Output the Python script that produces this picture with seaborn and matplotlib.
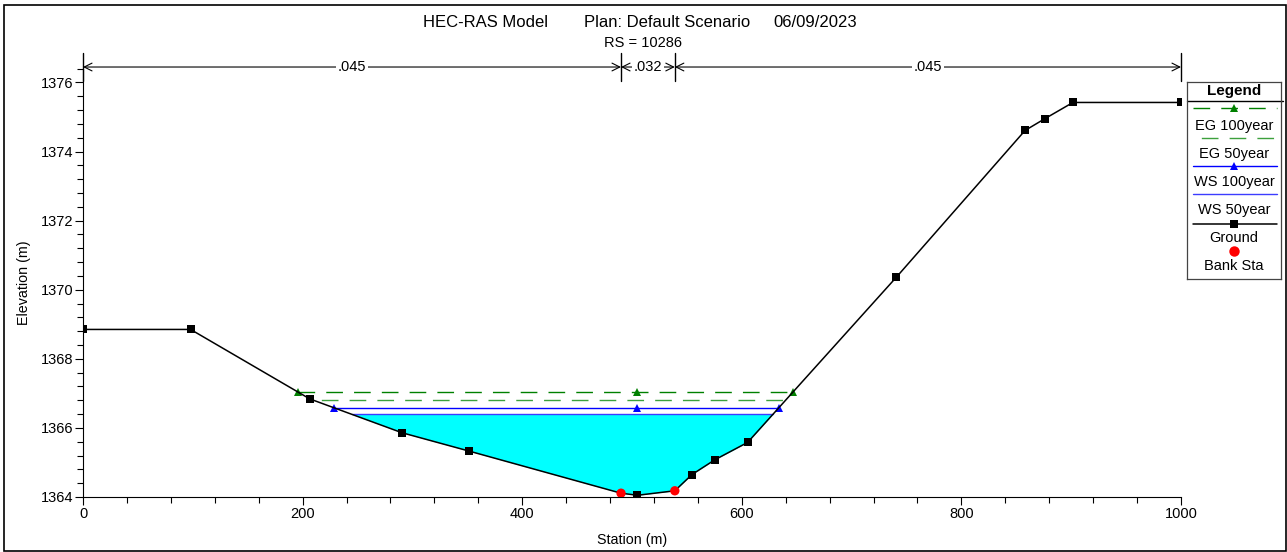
import numpy as np
import matplotlib
matplotlib.use("Agg")
import matplotlib.pyplot as plt
from matplotlib.ticker import MultipleLocator
from matplotlib.patches import Rectangle
import seaborn as sns

# ground geometry (station m, elevation m)
station = [0, 98, 206.5, 290.5, 351.5, 490, 505, 539, 554.6, 575.6, 605.3, 740.7, 858, 876, 901.6, 1000]
elevation = [1368.85, 1368.85, 1366.84, 1365.86, 1365.33, 1364.11, 1364.05, 1364.18, 1364.65,
             1365.08, 1365.58, 1370.36, 1374.61, 1374.95, 1375.42, 1375.42]
bank_station = [490, 539]
bank_elev = [1364.11, 1364.18]

# profiles
profile_names = ["EG 100year", "EG 50year", "WS 100year", "WS 50year"]
profile_elev = [1367.04, 1366.81, 1366.58, 1366.39]
profile_colors = ["#008000", "#3ca03c", "#0000ff", "#3c3cff"]
profile_styles = [(0, (12, 8)), (14, (12, 8)), "-", "-"]
profile_markers = ["^", None, "^", None]

# roughness
n_values = [".045", ".032", ".045"]
n_breaks = [0, 490, 539, 1000]

sns.set_style("ticks")
plt.rcParams["font.family"] = ["Liberation Sans", "DejaVu Sans"]
for k in ["text.color", "axes.labelcolor", "xtick.color", "ytick.color", "axes.edgecolor"]:
    plt.rcParams[k] = "black"

fig = plt.figure(figsize=(12.87, 5.52), dpi=100)
W, H = 1287, 552
ax = fig.add_axes([83 / W, 1 - 497 / H, (1181 - 83) / W, (497 - 68.6) / H])

x = np.array(station)
y = np.array(elevation)


def edges(z):
    wet = y < z
    i = np.argmax(wet)
    xl = np.interp(z, [y[i], y[i - 1]], [x[i], x[i - 1]])
    j = len(y) - 1 - np.argmax(wet[::-1])
    xr = np.interp(z, [y[j], y[j + 1]], [x[j], x[j + 1]])
    return xl, xr


x_mid = x[np.argmin(y)]

# water fill (lowest profile)
ax.fill_between(x, y, profile_elev[3], where=y < profile_elev[3], interpolate=True,
                color="#00ffff", lw=0, zorder=1)

for name, z, c, ls, mk in zip(profile_names, profile_elev, profile_colors, profile_styles, profile_markers):
    xl, xr = edges(z)
    if mk:
        xs = [xl, x_mid, xr]
    else:
        xs = [xl, xr]
    sns.lineplot(x=xs, y=[z] * len(xs), ax=ax, color=c, linestyle=ls, lw=1.0,
                 marker=mk, markersize=6, markeredgewidth=0, sort=False, zorder=3)

# ground, square markers except where a bank station sits
ground_marks = [i for i, s in enumerate(station) if s not in bank_station]
sns.lineplot(x=station, y=elevation, ax=ax, color="black", lw=1.1, marker="s",
             markersize=5.8, markeredgewidth=0, markevery=ground_marks, sort=False, zorder=4)
sns.scatterplot(x=bank_station, y=bank_elev, ax=ax, color="red", marker="o", s=45,
                edgecolor="none", zorder=5)

ax.set_xlim(0, 1000)
ax.set_ylim(1364, 1376.4)
ax.xaxis.set_major_locator(MultipleLocator(200))
ax.xaxis.set_minor_locator(MultipleLocator(40))
ax.yaxis.set_major_locator(MultipleLocator(2))
ax.yaxis.set_minor_locator(MultipleLocator(0.4))
ax.tick_params(which="major", length=6, width=0.8, labelsize=10.5, direction="out", pad=1)
ax.tick_params(which="minor", length=4, width=0.8, direction="out")
ax.set_yticks(range(1364, 1377, 2))
sns.despine(ax=ax)
for s in ["left", "bottom"]:
    ax.spines[s].set_linewidth(0.8)
ax.set_xlabel("Station (m)", fontsize=10.3, labelpad=9)
ax.set_ylabel("Elevation (m)", fontsize=10.3, labelpad=7)

# roughness bar above plot
tr = ax.get_xaxis_transform()
y_bar = 1.0037
for b in n_breaks:
    ax.plot([b, b], [(497 - 81) / 428.4, (497 - 53) / 428.4], transform=tr, color="black",
            lw=1, clip_on=False)
for k, lab in enumerate(n_values):
    a, b = n_breaks[k], n_breaks[k + 1]
    ax.annotate("", xy=(a, y_bar), xytext=(b, y_bar), xycoords=tr, textcoords=tr,
                arrowprops=dict(arrowstyle="<->", lw=0.8, color="black",
                                shrinkA=0, shrinkB=0, mutation_scale=14))
    ax.text((a + b) / 2, y_bar, lab, transform=tr, ha="center", va="center", fontsize=10.5,
            bbox=dict(facecolor="white", edgecolor="none", pad=1.0), clip_on=False)

ty = 1 - 22.5 / H
fig.text(423 / W, ty, "HEC-RAS Model", ha="left", va="center", fontsize=12)
fig.text(584 / W, ty, "Plan: Default Scenario", ha="left", va="center", fontsize=12)
fig.text(773 / W, ty, "06/09/2023", ha="left", va="center", fontsize=12)
fig.text(643 / W, 1 - 43 / H, "RS = 10286", ha="center", va="center", fontsize=10.5)

# figure border
fig.patches.append(Rectangle((4 / W, 1 - 551 / H), 1281.5 / W, 546 / H, transform=fig.transFigure,
                             fill=False, edgecolor="black", lw=1.2))

# legend box
lg = fig.add_axes([1187 / W, 1 - 279 / H, 94 / W, 197 / H])
lg.set_xlim(0, 94)
lg.set_ylim(197, 0)
lg.set_xticks([])
lg.set_yticks([])
for s in lg.spines.values():
    s.set_linewidth(0.9)
    s.set_color("#444444")
lg.text(47, 9, "Legend", ha="center", va="center", fontsize=11, fontweight="bold")
lg.plot([0, 96], [19, 19], color="black", lw=1, clip_on=False)
rows = [(26, 44), (56, 72), (84, 100), (112, 128)]
for (ly, ty2), name, c, ls, mk in zip(rows, profile_names, profile_colors, profile_styles, profile_markers):
    lg.plot([6, 90], [ly, ly], color=c, linestyle=ls, lw=1.0)
    if mk:
        lg.plot([47], [ly], marker=mk, color=c, markersize=6, markeredgewidth=0)
    lg.text(47, ty2, name, ha="center", va="center", fontsize=10.5)
lg.plot([6, 90], [142, 142], color="black", lw=1.1)
lg.plot([47], [142], marker="s", color="black", markersize=5.8, markeredgewidth=0)
lg.text(47, 156, "Ground", ha="center", va="center", fontsize=10.5)
lg.plot([47], [169], marker="o", color="red", markersize=7.5, markeredgewidth=0)
lg.text(47, 184, "Bank Sta", ha="center", va="center", fontsize=10.5)

fig.savefig("out.png", dpi=100)
